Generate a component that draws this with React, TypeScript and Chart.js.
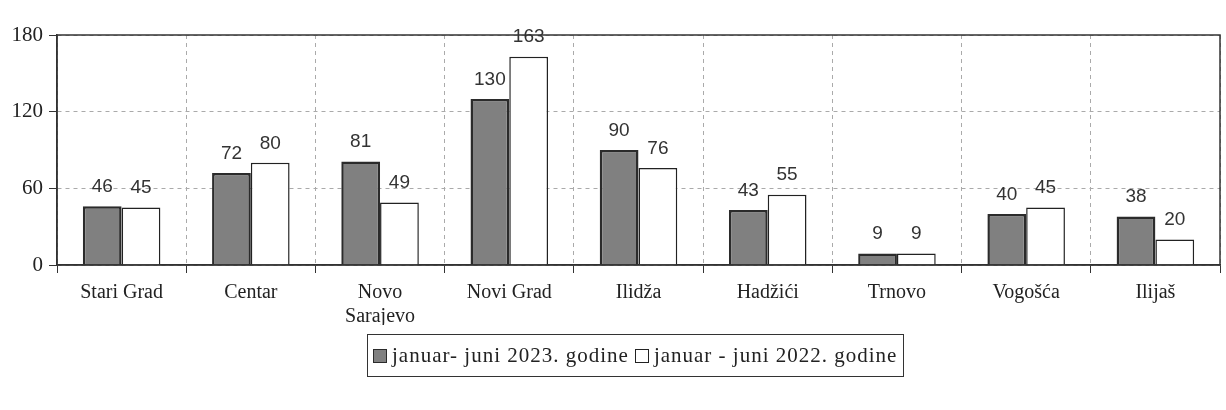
import React, { useEffect, useRef } from "react";
import { Chart, registerables } from "chart.js";

Chart.register(...registerables);

const categories: (string | string[])[] = [
  "Stari Grad",
  "Centar",
  ["Novo", "Sarajevo"],
  "Novi Grad",
  "Ilidža",
  "Hadžići",
  "Trnovo",
  "Vogošća",
  "Ilijaš",
];
const series2023: number[] = [46, 72, 81, 130, 90, 43, 9, 40, 38];
const series2022: number[] = [45, 80, 49, 163, 76, 55, 9, 45, 20];
const label2023 = "januar- juni 2023. godine";
const label2022 = "januar - juni 2022. godine";
const yTicks: number[] = [0, 60, 120, 180];

const frame = {
  id: "frame",
  afterDatasetsDraw(chart: any) {
    const { ctx, chartArea } = chart;
    ctx.save();
    ctx.strokeStyle = "#333";
    ctx.lineWidth = 1.5;
    ctx.strokeRect(chartArea.left, chartArea.top, chartArea.right - chartArea.left, chartArea.bottom - chartArea.top);
    ctx.font = "19px 'Liberation Sans', Arial, sans-serif";
    ctx.fillStyle = "#333";
    ctx.textAlign = "center";
    ctx.textBaseline = "bottom";
    chart.data.datasets.forEach((ds: any, i: number) => {
      const meta = chart.getDatasetMeta(i);
      meta.data.forEach((bar: any, j: number) => {
        ctx.fillText(String(ds.data[j]), bar.x, bar.y - 10);
      });
    });
    ctx.restore();
  },
};

export default function App() {
  const ref = useRef<HTMLCanvasElement>(null);
  useEffect(() => {
    if (!ref.current) return;
    const chart = new Chart(ref.current, {
      type: "bar",
      data: {
        labels: categories,
        datasets: [
          {
            label: label2023,
            data: series2023,
            backgroundColor: "#808080",
            borderColor: "#2b2b2b",
            borderWidth: 2.5,
            categoryPercentage: 0.6,
            barPercentage: 1.0,
          },
          {
            label: label2022,
            data: series2022,
            backgroundColor: "#ffffff",
            borderColor: "#222",
            borderWidth: 1.5,
            categoryPercentage: 0.6,
            barPercentage: 1.0,
          },
        ],
      },
      options: {
        animation: false,
        responsive: false,
        maintainAspectRatio: false,
        layout: { padding: { top: 35, right: 6, bottom: 85, left: 0 } },
        plugins: { legend: { display: false }, tooltip: { enabled: false } },
        scales: {
          x: {
            afterFit: (s: any) => { s.height = 60; },
            grid: {
              color: "#aaa",
              lineWidth: 1,
              tickLength: 8,
              tickColor: "#333",
              tickBorderDash: [],
              offset: true,
            },
            border: { display: true, color: "#333", width: 1.5, dash: [4, 4] },
            ticks: {
              color: "#222",
              padding: 8,
              maxRotation: 0,
              autoSkip: false,
              font: { family: "'Liberation Serif', 'Times New Roman', serif", size: 20 },
            },
          },
          y: {
            min: 0,
            max: 180,
            afterFit: (s: any) => { s.width = 57; },
            afterBuildTicks: (s: any) => { s.ticks = yTicks.map((v) => ({ value: v })); },
            grid: {
              color: "#aaa",
              lineWidth: 1,
              tickLength: 8,
              tickColor: "#333",
              tickBorderDash: [],
            },
            border: { display: true, color: "#333", width: 1.5, dash: [4, 4] },
            ticks: {
              color: "#222",
              padding: 6,
              font: { family: "'Liberation Serif', 'Times New Roman', serif", size: 21 },
            },
          },
        },
      },
      plugins: [frame],
    });
    return () => chart.destroy();
  }, []);

  const box = (fill: string, border: string) => (
    <span
      style={{
        display: "inline-block",
        width: 12,
        height: 12,
        background: fill,
        border: `1.5px solid ${border}`,
        marginRight: 5,
      }}
    />
  );

  return (
    <div style={{ position: "fixed", left: 0, top: 0, width: 1226, height: 410, background: "#fff" }}>
      <canvas ref={ref} width={1226} height={410} style={{ position: "absolute", left: 0, top: 0 }} />
      <div
        style={{
          position: "absolute",
          left: 367,
          top: 334,
          height: 43,
          boxSizing: "border-box",
          border: "1.5px solid #333",
          fontFamily: "'Liberation Serif', 'Times New Roman', serif",
          fontSize: 21,
          letterSpacing: "1px",
          color: "#222",
          display: "flex",
          alignItems: "center",
          paddingLeft: 5,
          paddingRight: 6,
          whiteSpace: "nowrap",
        }}
      >
        {box("#808080", "#2b2b2b")}
        <span style={{ marginRight: 6 }}>{label2023}</span>
        {box("#ffffff", "#222")}
        <span>{label2022}</span>
      </div>
    </div>
  );
}
